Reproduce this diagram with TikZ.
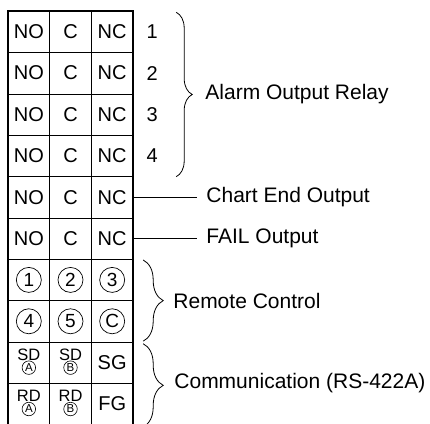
\documentclass[tikz,border=0pt]{standalone}
\usepackage{fontspec}
\setmainfont{Liberation Sans}
\usetikzlibrary{decorations.pathreplacing}

\tikzset{
  cell/.style={minimum width=41.67pt, minimum height=41.37pt,
    inner sep=0pt, font=\fontsize{20}{24}\selectfont},
  ring/.style={draw, circle, line width=0.7pt, minimum size=25pt, inner sep=0pt,
    font=\fontsize{19}{22}\selectfont},
  minring/.style={draw, circle, line width=0.6pt, minimum size=13.5pt, inner sep=0pt,
    font=\fontsize{11.5}{13}\selectfont},
  sdtext/.style={inner sep=0pt, font=\fontsize{16.5}{19}\selectfont},
  tag/.style={anchor=west, inner sep=0pt, font=\fontsize{21}{25}\selectfont},
  lead/.style={anchor=west, inner xsep=9pt, inner ysep=0pt, font=\fontsize{21}{25}\selectfont},
  curly/.style={decorate, decoration={brace, amplitude=#1}, line width=0.8pt},
  grid/.style={line width=0.8pt},
}

\begin{document}
\begin{tikzpicture}[x=1pt, y=-1pt]
  \useasboundingbox (0,0) rectangle (430,423);

  % terminal cells
  \foreach \r in {1,...,6}
    \foreach \c/\t in {1/NO, 2/C, 3/NC}
      \node[cell] (c\r-\c) at ({8+41.67*(\c-0.5)}, {11+41.37*(\r-0.5)}) {\t};
  \foreach \r in {7,...,10}
    \foreach \c in {1,2,3}
      \node[cell] (c\r-\c) at ({8+41.67*(\c-0.5)}, {11+41.37*(\r-0.5)}) {};
  \node[cell] (sg) at (c9-3) {SG};
  \node[cell] (fg) at (c10-3) {FG};

  % grid
  \foreach \r in {1,...,9}
    \draw[grid] (c\r-1.south west) -- (c\r-3.south east);
  \foreach \c in {1,2}
    \draw[grid] (c1-\c.north east) -- (c10-\c.south east);
  \draw[line width=2pt] (c1-1.north west) rectangle (c10-3.south east);

  % remote control
  \foreach \c/\t in {1/1, 2/2, 3/3}
    \node[ring] (o7-\c) at (c7-\c) {\t};
  \foreach \c/\t in {1/4, 2/5, 3/C}
    \node[ring] (o8-\c) at (c8-\c) {\t};

  % communication
  \foreach \r/\s in {9/SD, 10/RD}
    \foreach \c/\t in {1/A, 2/B} {
      \node[sdtext] (s\r-\c) at ([yshift=8pt]c\r-\c) {\s};
      \node[minring] (m\r-\c) at ([yshift=-5pt]c\r-\c) {\t};
    }

  % relay numbers
  \foreach \r in {1,...,4}
    \node[font=\fontsize{20}{24}\selectfont, inner sep=0pt] (n\r) at ([xshift=40pt]c\r-3) {\r};

  % labels
  \draw[curly=16pt] ([xshift=43pt,yshift=-1.5pt]c1-3.north east) -- ([xshift=43pt]c4-3.south east);
  \node[tag] (alarm) at ([xshift=72pt]c2-3.south east) {Alarm Output Relay};

  \node[lead] (chart) at ([xshift=64pt]c5-3.east) {Chart End Output};
  \draw[grid] (c5-3.east) -- (chart.west);
  \node[lead] (fail) at ([xshift=64pt]c6-3.east) {FAIL Output};
  \draw[grid] (c6-3.east) -- (fail.west);

  \draw[curly=20pt] ([xshift=10pt,yshift=-1pt]c7-3.north east) -- ([xshift=10pt,yshift=1pt]c8-3.south east);
  \node[tag] (remote) at ([xshift=40pt]c7-3.south east) {Remote Control};

  \draw[curly=20pt] ([xshift=10pt,yshift=-2pt]c9-3.north east) -- ([xshift=10pt,yshift=-2pt]c10-3.south east);
  \node[tag] (comm) at ([xshift=41pt]c9-3.south east) {Communication (RS-422A)};
\end{tikzpicture}
\end{document}
